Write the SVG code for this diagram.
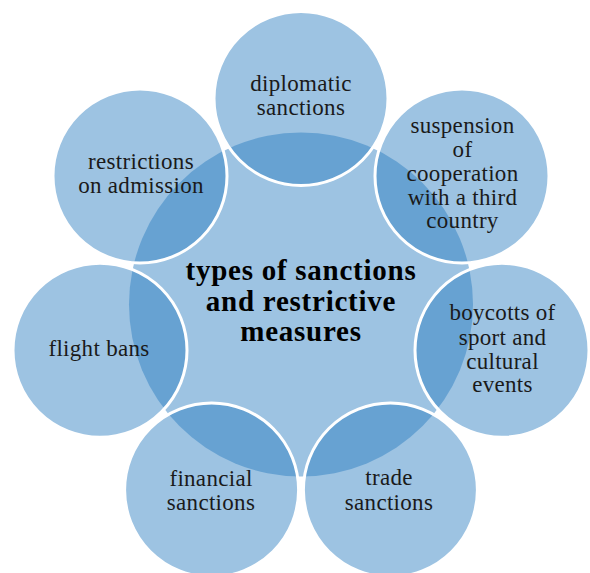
<svg xmlns="http://www.w3.org/2000/svg" width="590" height="573" viewBox="0 0 590 573">
<style>
.c{fill:rgb(37,122,191);fill-opacity:0.45}
.s{fill:rgb(37,122,191);fill-opacity:0.45;stroke:#fff;stroke-width:3}
.t{font-family:"Liberation Serif","Times New Roman",serif;font-size:23px;letter-spacing:0.3px;fill:#1a1a1a;text-anchor:middle}
.m{font-family:"Liberation Serif","Times New Roman",serif;font-size:29px;font-weight:bold;letter-spacing:0.75px;fill:#000;text-anchor:middle}
</style>
<rect width="590" height="573" fill="#fff"/>
<g id="center">
<circle class="c" cx="301" cy="304.5" r="172"/>
</g>
<g id="diplomatic">
<circle class="s" cx="301" cy="98.5" r="87"/>
<text class="t" x="301" y="91">diplomatic</text>
<text class="t" x="301" y="115">sanctions</text>
</g>
<g id="suspension">
<circle class="s" cx="462" cy="176" r="87"/>
<text class="t" x="462.5" y="133">suspension</text>
<text class="t" x="462.5" y="157">of</text>
<text class="t" x="462.5" y="181">cooperation</text>
<text class="t" x="462.5" y="205">with a third</text>
<text class="t" x="462.5" y="228">country</text>
</g>
<g id="boycotts">
<circle class="s" cx="502" cy="350.3" r="87"/>
<text class="t" x="502.5" y="320">boycotts of</text>
<text class="t" x="502.5" y="345">sport and</text>
<text class="t" x="502.5" y="369">cultural</text>
<text class="t" x="502.5" y="392">events</text>
</g>
<g id="trade">
<circle class="s" cx="390.4" cy="490" r="87"/>
<text class="t" x="389" y="485">trade</text>
<text class="t" x="389" y="510">sanctions</text>
</g>
<g id="financial">
<circle class="s" cx="211.6" cy="490" r="87"/>
<text class="t" x="211" y="486">financial</text>
<text class="t" x="211" y="510">sanctions</text>
</g>
<g id="flight">
<circle class="s" cx="100" cy="350.3" r="87"/>
<text class="t" x="99" y="356">flight bans</text>
</g>
<g id="restrictions">
<circle class="s" cx="140" cy="176" r="87"/>
<text class="t" x="141" y="169">restrictions</text>
<text class="t" x="141" y="193">on admission</text>
</g>
<g id="title">
<text class="m" x="301" y="280">types of sanctions</text>
<text class="m" x="301" y="311">and restrictive</text>
<text class="m" x="301" y="341">measures</text>
</g>
<g id="connectors"></g>
</svg>
